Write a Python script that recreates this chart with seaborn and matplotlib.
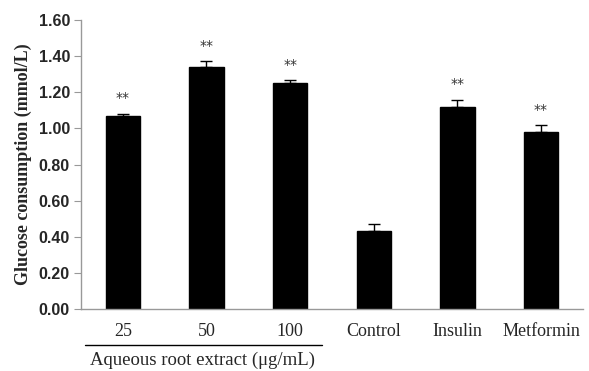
import pandas as pd
import matplotlib.pyplot as plt
import seaborn as sns

groups = ["25", "50", "100", "Control", "Insulin", "Metformin"]
glucose = [1.07, 1.34, 1.25, 0.43, 1.12, 0.98]
sem = [0.012, 0.035, 0.02, 0.04, 0.04, 0.04]
marks = ["**", "**", "**", "", "**", "**"]


def main():
    df = pd.DataFrame({"group": groups, "glucose": glucose})

    sns.set_style("white")
    plt.rcParams["font.family"] = ["Liberation Serif", "DejaVu Serif"]

    fig = plt.figure(figsize=(5.89, 3.71), dpi=100)
    ax = fig.add_axes([0.1375, 0.167, 0.852, 0.779])

    sns.barplot(data=df, x="group", y="glucose", order=groups, color="black",
                edgecolor="black", width=0.41, saturation=1, ax=ax)

    xs = list(range(len(groups)))
    ax.errorbar(xs, glucose, yerr=[[0] * len(sem), sem], fmt="none",
                ecolor="black", elinewidth=1, capsize=4, capthick=1)

    for x, v, e, m in zip(xs, glucose, sem, marks):
        if m:
            ax.text(x, v + e + 0.045, m, ha="center", va="bottom",
                    fontsize=10, family="DejaVu Sans", color="#333333")

    ax.set_ylim(0, 1.6)
    ax.set_xlim(-0.5, 5.5)
    ax.set_yticks([i * 0.2 for i in range(9)])
    ax.set_yticklabels([f"{i * 0.2:.2f}" for i in range(9)],
                       family="Liberation Sans", fontweight="bold", fontsize=11.5)
    ax.set_xticks(xs)
    ax.set_xticklabels(groups, fontsize=13)
    ax.set_xticks([i - 0.5 for i in range(7)], minor=True)
    ax.tick_params(axis="x", which="major", length=0, pad=10)
    ax.tick_params(axis="x", which="minor", length=5, color="#999999", direction="out")
    ax.tick_params(axis="y", length=5, color="#999999", direction="out", left=True, pad=3)

    ax.set_xlabel("")
    ax.set_ylabel("Glucose consumption (mmol/L)", fontsize=13, fontweight="bold", labelpad=5)

    for s in ["top", "right"]:
        ax.spines[s].set_visible(False)
    for s in ["left", "bottom"]:
        ax.spines[s].set_color("#999999")
        ax.spines[s].set_linewidth(1)

    trans = ax.get_xaxis_transform()
    ax.plot([-0.45, 2.38], [-0.125, -0.125], color="black", lw=1,
            transform=trans, clip_on=False)
    ax.text(0.95, -0.178, "Aqueous root extract (\u03bcg/mL)", transform=trans,
            ha="center", va="center", fontsize=13.5)

    fig.savefig("out.png", dpi=100)
    plt.close(fig)


if __name__ == "__main__":
    main()
